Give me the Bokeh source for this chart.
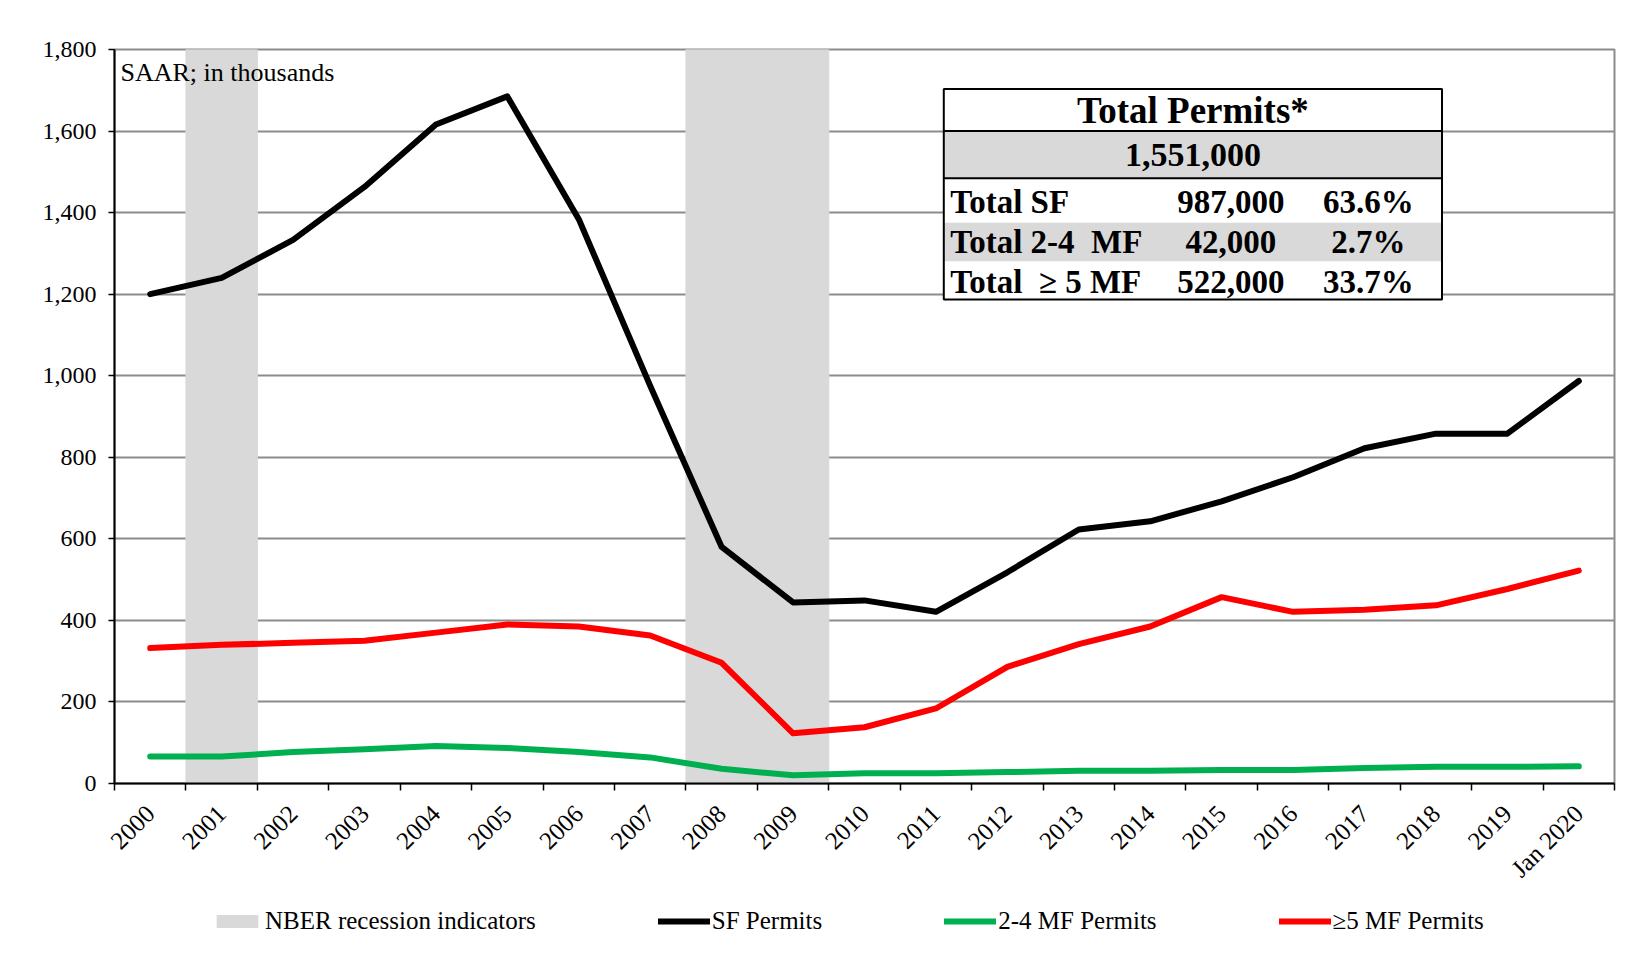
import math
from bokeh.plotting import figure
from bokeh.layouts import column
from bokeh.models import (FixedTicker, NumeralTickFormatter, Range1d, Legend,
                          LegendItem, Label, ColumnDataSource)
from bokeh.core.properties import value
from bokeh.embed import file_html
from bokeh.resources import INLINE

# ---------------- data ----------------
categories = ["2000", "2001", "2002", "2003", "2004", "2005", "2006", "2007",
              "2008", "2009", "2010", "2011", "2012", "2013", "2014", "2015",
              "2016", "2017", "2018", "2019", "Jan 2020"]
sf_permits = [1200, 1240, 1333, 1463, 1616, 1685, 1384, 975, 580, 444, 449,
              421, 518, 623, 643, 692, 751, 822, 858, 858, 987]
mf_2_4_permits = [66, 66, 77, 84, 92, 87, 77, 64, 36, 20, 25, 25, 28, 31, 31,
                  33, 33, 38, 41, 41, 42]
mf_5plus_permits = [332, 340, 345, 350, 370, 390, 385, 363, 296, 123, 138, 184,
                    286, 342, 385, 457, 421, 426, 437, 477, 522]
recession = [0, 1, 0, 0, 0, 0, 0, 0, 1, 1, 0, 0, 0, 0, 0, 0, 0, 0, 0, 0, 0]
y_ticks = [0, 200, 400, 600, 800, 1000, 1200, 1400, 1600, 1800]
series_names = ["NBER recession indicators", "SF Permits", "2-4 MF Permits",
                "\u22655 MF Permits"]

table_title = "Total Permits*"
table_total = "1,551,000"
table_rows = ["Total SF", "Total 2-4\u00a0 MF", "Total\u00a0 \u2265 5 MF"]
table_counts = ["987,000", "42,000", "522,000"]
table_shares = ["63.6%", "2.7%", "33.7%"]

# ---------------- styles ----------------
FONT = "Liberation Serif"
REC_COLOR = "#d9d9d9"
SF_COLOR = "black"
MF24_COLOR = "#00b050"
MF5_COLOR = "#ff0000"
LW = 6
W = 1625

n = len(categories)
xs = [i + 0.5 for i in range(n)]
y_max = y_ticks[-1]

p = figure(width=W, height=901, output_backend="svg", toolbar_location=None,
           x_range=Range1d(0, n), y_range=Range1d(0, y_max),
           min_border_left=114, min_border_right=11, min_border_top=49,
           min_border_bottom=118)
p.background_fill_color = "white"
p.border_fill_color = "white"
p.outline_line_color = "#8c8c8c"
p.outline_line_width = 2

# recession bars
src_rec = ColumnDataSource(dict(x=xs, top=[r * y_max for r in recession]))
p.vbar(x="x", top="top", bottom=0, width=1.0, source=src_rec,
       fill_color=REC_COLOR, line_color=REC_COLOR, line_width=1)

p.line(xs, sf_permits, line_color=SF_COLOR, line_width=LW,
       line_cap="round", line_join="round")
p.line(xs, mf_2_4_permits, line_color=MF24_COLOR, line_width=LW,
       line_cap="round", line_join="round")
p.line(xs, mf_5plus_permits, line_color=MF5_COLOR, line_width=LW,
       line_cap="round", line_join="round")

# axes
p.xgrid.grid_line_color = None
p.ygrid.grid_line_color = "#8c8c8c"
p.ygrid.grid_line_width = 2
p.ygrid.ticker = FixedTicker(ticks=y_ticks)

xa = p.xaxis[0]
xa.ticker = FixedTicker(ticks=xs, minor_ticks=list(range(n + 1)))
xa.major_label_overrides = {x: c for x, c in zip(xs, categories)}
xa.major_tick_in = 0
xa.major_tick_out = 0
xa.minor_tick_in = 0
xa.minor_tick_out = 7
xa.minor_tick_line_color = "black"
xa.minor_tick_line_width = 1.5
xa.axis_line_color = "black"
xa.axis_line_width = 2
xa.major_label_orientation = math.pi / 4
xa.major_label_text_font = FONT
xa.major_label_text_font_size = "25px"
xa.major_label_text_color = "black"
xa.major_label_standoff = 19

ya = p.yaxis[0]
ya.ticker = FixedTicker(ticks=y_ticks)
ya.formatter = NumeralTickFormatter(format="0,0")
ya.major_tick_in = 0
ya.major_tick_out = 6
ya.minor_tick_out = 0
ya.minor_tick_in = 0
ya.major_tick_line_color = "black"
ya.major_tick_line_width = 1.5
ya.axis_line_color = "black"
ya.axis_line_width = 2
ya.major_label_text_font = FONT
ya.major_label_text_font_size = "24px"
ya.major_label_text_color = "black"
ya.major_label_standoff = 12

p.add_layout(Label(x=0, y=y_max, x_offset=6, y_offset=-23, text="SAAR; in thousands",
                   text_font=FONT, text_font_size="26px", text_baseline="middle",
                   text_color="black"))

# ---------------- summary table ----------------
tl, tr = 11.61, 18.585
t_top, t_sep1, t_sep2, t_bot = 1703, 1600, 1484, 1187
row_y = [1426, 1328, 1230]
p.quad(left=tl, right=tr, top=t_top, bottom=t_bot, fill_color="white",
       line_color=None)
p.quad(left=tl, right=tr, top=t_sep1, bottom=t_sep2, fill_color=REC_COLOR,
       line_color=None)
p.quad(left=tl, right=tr, top=(row_y[0] + row_y[1]) / 2 - 2,
       bottom=(row_y[1] + row_y[2]) / 2 + 2, fill_color=REC_COLOR, line_color=None)
p.segment(x0=[tl, tl], y0=[t_sep1, t_sep2], x1=[tr, tr], y1=[t_sep1, t_sep2],
          line_color="black", line_width=2)
p.quad(left=tl, right=tr, top=t_top, bottom=t_bot, fill_color=None,
       line_color="black", line_width=2)

p.text(x=[(tl + tr) / 2], y=[(t_top + t_sep1) / 2], text=[table_title],
       text_font=value(FONT), text_font_style="bold", text_font_size="37px",
       text_align="center", text_baseline="middle", text_color="black")
p.text(x=[(tl + tr) / 2], y=[(t_sep1 + t_sep2) / 2], text=[table_total],
       text_font=value(FONT), text_font_style="bold", text_font_size="34px",
       text_align="center", text_baseline="middle", text_color="black")
p.text(x=[tl + 0.09] * 3, y=row_y, text=table_rows, text_font=value(FONT),
       text_font_style="bold", text_font_size="33px", text_align="left",
       text_baseline="middle", text_color="black")
p.text(x=[15.63] * 3, y=row_y, text=table_counts, text_font=value(FONT),
       text_font_style="bold", text_font_size="33px", text_align="center",
       text_baseline="middle", text_color="black")
p.text(x=[17.555] * 3, y=row_y, text=table_shares, text_font=value(FONT),
       text_font_style="bold", text_font_size="33px", text_align="center",
       text_baseline="middle", text_color="black")

# ---------------- legend (separate strip below the chart) ----------------
lg = figure(width=W, height=64, output_backend="svg", toolbar_location=None,
            x_range=Range1d(0, 1), y_range=Range1d(0, 1), min_border=0)
lg.axis.visible = False
lg.grid.grid_line_color = None
lg.outline_line_color = None
lg.background_fill_color = "white"
lg.border_fill_color = "white"
# proxy renderers placed outside the visible range; only their legend swatches show
r_rec = lg.vbar(x=[-5], top=[-5], bottom=[-6], width=1, fill_color=REC_COLOR,
                line_color=None)
r_sf = lg.line(x=[-6, -5], y=[-5, -5], line_color=SF_COLOR, line_width=LW,
               line_cap="round")
r_24 = lg.line(x=[-6, -5], y=[-5, -5], line_color=MF24_COLOR, line_width=LW,
               line_cap="round")
r_5 = lg.line(x=[-6, -5], y=[-5, -5], line_color=MF5_COLOR, line_width=LW,
              line_cap="round")
legend = Legend(items=[LegendItem(label=nm, renderers=[r])
                       for nm, r in zip(series_names, [r_rec, r_sf, r_24, r_5])],
                orientation="horizontal", location=(97, 30), spacing=122,
                glyph_width=52, glyph_height=16, label_standoff=2, padding=0,
                margin=0, label_text_font=FONT, label_text_font_size="25px",
                label_text_color="black", border_line_alpha=0,
                background_fill_alpha=0)
lg.add_layout(legend, "center")

layout = column(p, lg, spacing=0)
open("out.html", "w").write(file_html(layout, INLINE))
